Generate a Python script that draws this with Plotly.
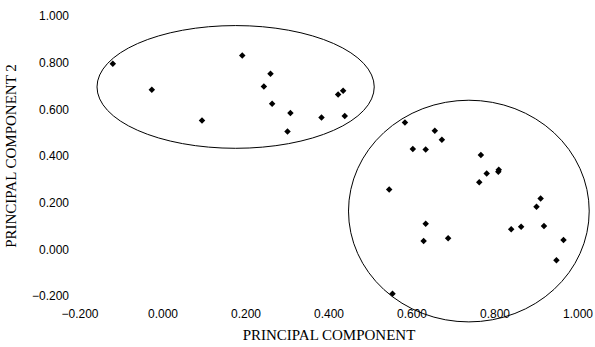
import plotly.graph_objects as go

# Data
pc1 = [-0.121, -0.027, 0.094, 0.191, 0.259, 0.243, 0.263, 0.307, 0.300,
       0.422, 0.434, 0.382, 0.438,
       0.583, 0.655, 0.672, 0.602, 0.633, 0.766, 0.780, 0.809, 0.808, 0.762,
       0.545, 0.910, 0.900, 0.633, 0.687, 0.628, 0.839, 0.863, 0.918, 0.965,
       0.948, 0.553]
pc2 = [0.795, 0.684, 0.552, 0.831, 0.752, 0.698, 0.624, 0.584, 0.505,
       0.664, 0.680, 0.565, 0.571,
       0.544, 0.508, 0.470, 0.430, 0.428, 0.404, 0.325, 0.341, 0.333, 0.288,
       0.256, 0.218, 0.183, 0.110, 0.048, 0.036, 0.086, 0.097, 0.100, 0.040,
       -0.047, -0.190]

# Cluster ellipses: (center x, center y, radius x, radius y) in data units
ellipse_cx = [0.175, 0.737]
ellipse_cy = [0.696, 0.164]
ellipse_rx = [0.334, 0.290]
ellipse_ry = [0.263, 0.475]

tick_vals = [-0.2, 0.0, 0.2, 0.4, 0.6, 0.8, 1.0]
tick_text = ["\u22120.200", "0.000", "0.200", "0.400", "0.600", "0.800", "1.000"]

x_range = [-0.2, 1.0]
y_range = [-0.2, 1.0]


def px(v):
    return (v - x_range[0]) / (x_range[1] - x_range[0])


def py(v):
    return (v - y_range[0]) / (y_range[1] - y_range[0])


fig = go.Figure()
fig.add_trace(go.Scatter(
    x=pc1, y=pc2, mode="markers",
    marker=dict(symbol="diamond", size=5, color="black"),
    cliponaxis=False, showlegend=False, hoverinfo="skip",
))

for cx, cy, rx, ry in zip(ellipse_cx, ellipse_cy, ellipse_rx, ellipse_ry):
    fig.add_shape(type="circle", xref="paper", yref="paper",
                  x0=px(cx - rx), x1=px(cx + rx), y0=py(cy - ry), y1=py(cy + ry),
                  line=dict(color="black", width=1), layer="above")

title_font = dict(family="Liberation Serif, Times New Roman, serif", size=15)

fig.update_layout(
    width=595, height=347,
    margin=dict(l=80, r=17, t=16, b=51, autoexpand=False),
    paper_bgcolor="white", plot_bgcolor="white",
    font=dict(family="Liberation Sans, Arial, sans-serif", size=12, color="black"),
    xaxis=dict(
        range=x_range, tickvals=tick_vals, ticktext=tick_text,
        showgrid=False, zeroline=False, showline=False, ticks="",
        automargin=False, ticklabelstandoff=9,
        title=dict(text="PRINCIPAL COMPONENT", standoff=9, font=title_font),
    ),
    yaxis=dict(
        range=y_range, tickvals=tick_vals, ticktext=tick_text,
        showgrid=False, zeroline=False, showline=False, ticks="",
        automargin=False, ticklabelstandoff=10,
        title=dict(text="PRINCIPAL COMPONENT 2", standoff=11, font=title_font),
    ),
)

fig.write_html("out.html", config={"displayModeBar": False},
               post_script="document.body.style.margin='0px';")
